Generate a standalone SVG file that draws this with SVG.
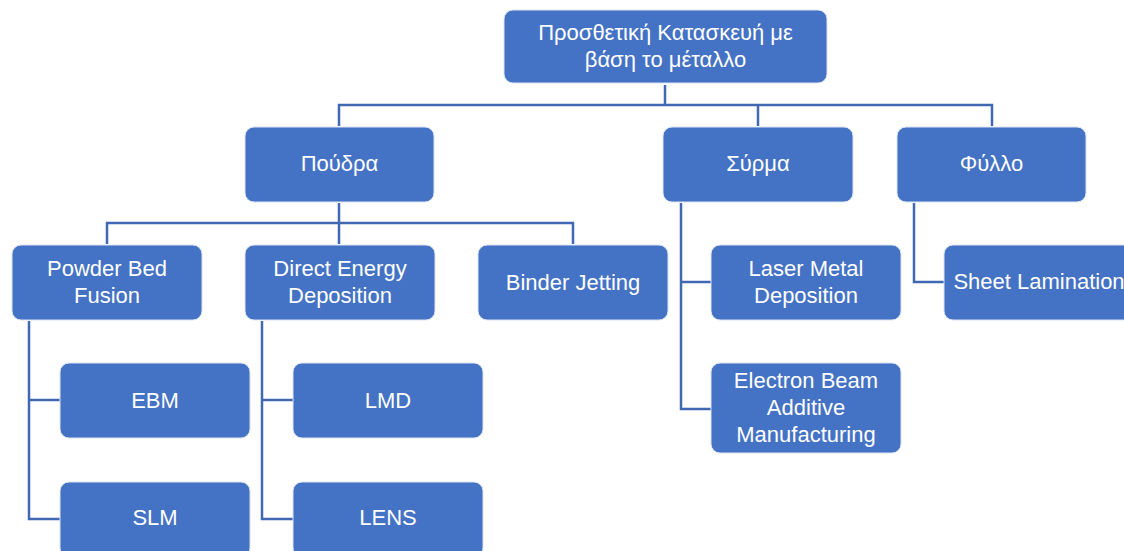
<svg xmlns="http://www.w3.org/2000/svg" width="1124" height="551" viewBox="0 0 1124 551">
  <style>
    .box { fill: #4472C4; stroke: #DCE4F2; stroke-width: 1; }
    .lbl { fill: #FFFFFF; font-family: "Liberation Sans", Arial, sans-serif; font-size: 22px; text-anchor: middle; }
    .wire { fill: none; stroke: #4169B3; stroke-width: 2.5; }
  </style>
  <rect width="1124" height="551" fill="#FFFFFF"/>

  <!-- hierarchy lines -->
  <g id="connectors">
    <path class="wire" d="M665 85 V105"/>
    <path class="wire" d="M339 126 V105 H992 V126"/>
    <path class="wire" d="M758 105 V126"/>
    <path class="wire" d="M339 203 V223"/>
    <path class="wire" d="M107 244 V223 H573 V244"/>
    <path class="wire" d="M339 223 V244"/>
    <path class="wire" d="M29 321 V519 H60"/>
    <path class="wire" d="M29 400 H60"/>
    <path class="wire" d="M262 321 V519 H293"/>
    <path class="wire" d="M262 400 H293"/>
    <path class="wire" d="M681 203 V409 H711"/>
    <path class="wire" d="M681 282 H711"/>
    <path class="wire" d="M914 203 V282 H944"/>
  </g>

  <g id="root">
    <rect class="box" x="504" y="10" width="323" height="73" rx="9"/>
    <text class="lbl" x="665.5" y="40">Προσθετική Κατασκευή με</text>
    <text class="lbl" x="665.5" y="67">βάση το μέταλλο</text>
  </g>

  <g id="powder">
    <rect class="box" x="245" y="127" width="189" height="75" rx="9"/>
    <text class="lbl" x="339.5" y="171">Πούδρα</text>
  </g>
  <g id="wire-feed">
    <rect class="box" x="663" y="127" width="190" height="75" rx="9"/>
    <text class="lbl" x="758" y="171">Σύρμα</text>
  </g>
  <g id="sheet">
    <rect class="box" x="897" y="127" width="189" height="75" rx="9"/>
    <text class="lbl" x="991.5" y="171">Φύλλο</text>
  </g>

  <g id="pbf">
    <rect class="box" x="12" y="245" width="190" height="75" rx="9"/>
    <text class="lbl" x="107" y="276">Powder Bed</text>
    <text class="lbl" x="107" y="303">Fusion</text>
  </g>
  <g id="ded">
    <rect class="box" x="245" y="245" width="190" height="75" rx="9"/>
    <text class="lbl" x="340" y="276">Direct Energy</text>
    <text class="lbl" x="340" y="303">Deposition</text>
  </g>
  <g id="binder">
    <rect class="box" x="478" y="245" width="190" height="75" rx="9"/>
    <text class="lbl" x="573" y="290">Binder Jetting</text>
  </g>
  <g id="lmd-wire">
    <rect class="box" x="711" y="245" width="190" height="75" rx="9"/>
    <text class="lbl" x="806" y="276">Laser Metal</text>
    <text class="lbl" x="806" y="303">Deposition</text>
  </g>
  <g id="lamination">
    <rect class="box" x="944" y="245" width="190" height="75" rx="9"/>
    <text class="lbl" x="1039" y="289">Sheet Lamination</text>
  </g>
  <g id="ebam">
    <rect class="box" x="711" y="363" width="190" height="90" rx="9"/>
    <text class="lbl" x="806" y="388">Electron Beam</text>
    <text class="lbl" x="806" y="415">Additive</text>
    <text class="lbl" x="806" y="442">Manufacturing</text>
  </g>

  <g id="ebm">
    <rect class="box" x="60" y="363" width="190" height="75" rx="9"/>
    <text class="lbl" x="155" y="408">EBM</text>
  </g>
  <g id="slm">
    <rect class="box" x="60" y="482" width="190" height="75" rx="9"/>
    <text class="lbl" x="155" y="525">SLM</text>
  </g>
  <g id="lmd">
    <rect class="box" x="293" y="363" width="190" height="75" rx="9"/>
    <text class="lbl" x="388" y="408">LMD</text>
  </g>
  <g id="lens">
    <rect class="box" x="293" y="482" width="190" height="75" rx="9"/>
    <text class="lbl" x="388" y="525">LENS</text>
  </g>
</svg>
